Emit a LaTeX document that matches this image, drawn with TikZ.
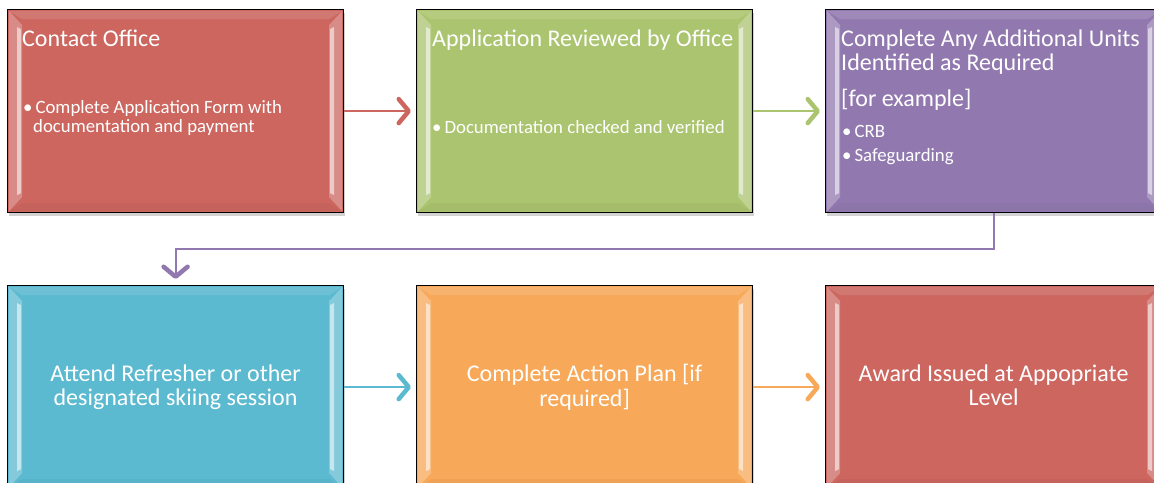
\documentclass[tikz,border=0pt]{standalone}
\usepackage{fontspec}
\setmainfont{Carlito}
\usetikzlibrary{arrows.meta,shadows}
\definecolor{cRed}{RGB}{204,102,95}
\definecolor{cGreen}{RGB}{171,196,111}
\definecolor{cPurple}{RGB}{145,121,175}
\definecolor{cBlue}{RGB}{91,185,208}
\definecolor{cOrange}{RGB}{247,168,89}
\tikzset{
  boxst/.style={draw=black, line width=1.2pt, minimum width=336pt, minimum height=203pt,
    anchor=north west, inner sep=0pt,
    drop shadow={opacity=0.35, shadow xshift=1.5pt, shadow yshift=-3pt}},
  ttl/.style={text=white, inner sep=0pt, anchor=base west, font=\fontsize{24}{24}\selectfont},
  bul/.style={text=white, inner sep=0pt, anchor=base west, font=\fontsize{18.8}{20}\selectfont},
  ctr/.style={text=white, inner sep=0pt, align=center, yshift=-2pt, font=\fontsize{24}{24}\selectfont},
  arr/.style={line width=2.5pt, shorten >=5pt,
    -{Straight Barb[length=10pt,width=24pt,line width=4.5pt,round]}},
}
\newcommand\mybevel[1]{%
  \fill[white,opacity=0.25] ([shift={(2,2)}]#1.north west) -- ([shift={(15,16)}]#1.north west)
    -- ([shift={(15,-16)}]#1.south west) -- ([shift={(2,-2)}]#1.south west) -- cycle;
  \fill[white,opacity=0.55] ([shift={(10,18)}]#1.north west) -- ([shift={(14,20)}]#1.north west)
    -- ([shift={(14,-20)}]#1.south west) -- ([shift={(10,-18)}]#1.south west) -- cycle;
  \fill[white,opacity=0.25] ([shift={(-2,2)}]#1.north east) -- ([shift={(-15,16)}]#1.north east)
    -- ([shift={(-15,-16)}]#1.south east) -- ([shift={(-2,-2)}]#1.south east) -- cycle;
  \fill[white,opacity=0.55] ([shift={(-10,18)}]#1.north east) -- ([shift={(-14,20)}]#1.north east)
    -- ([shift={(-14,-20)}]#1.south east) -- ([shift={(-10,-18)}]#1.south east) -- cycle;
  \fill[white,opacity=0.12] ([shift={(2,2)}]#1.north west) -- ([shift={(-2,2)}]#1.north east)
    -- ([shift={(-15,10)}]#1.north east) -- ([shift={(15,10)}]#1.north west) -- cycle;
  \fill[black,opacity=0.03] ([shift={(2,-2)}]#1.south west) -- ([shift={(-2,-2)}]#1.south east)
    -- ([shift={(-15,-10)}]#1.south east) -- ([shift={(15,-10)}]#1.south west) -- cycle;
}
\newcommand\bu{\textbullet\hspace{3pt}}
\begin{document}
\begin{tikzpicture}[x=1pt,y=-1pt]
\useasboundingbox (0,0) rectangle (1154,482);
\clip (0,0) rectangle (1154,482);
\fill[white] (0,0) rectangle (1154,482);

% boxes
\node[boxst, fill=cRed]    (b1) at (7,9) {};
\node[boxst, fill=cGreen]  (b2) at (416,9) {};
\node[boxst, fill=cPurple] (b3) at (825,9) {};
\node[boxst, fill=cBlue]   (b4) at (7,285) {};
\node[boxst, fill=cOrange] (b5) at (416,285) {};
\node[boxst, fill=cRed]    (b6) at (825,285) {};
\mybevel{b1}\mybevel{b2}\mybevel{b3}\mybevel{b4}\mybevel{b5}\mybevel{b6}

% box 1 text
\node[ttl] (t1) at (22,46) {Contact Office};
\node[bul] (t1a) at (23,113) {\bu Complete Application Form with};
\node[bul] (t1b) at (33,132) {documentation and payment};

% box 2 text
\node[ttl] (t2) at (432,46) {Application Reviewed by Office};
\node[bul] (t2a) at (432,133) {\bu Documentation checked and verified};

% box 3 text
\node[ttl] (t3a) at (841,46) {Complete Any Additional Units};
\node[ttl] (t3b) at (841,70) {Identified as Required};
\node[ttl] (t3c) at (841,106) {[for example]};
\node[bul] (t3d) at (842,137) {\bu CRB};
\node[bul] (t3e) at (842,161) {\bu Safeguarding};

% bottom texts
\node[ctr] (t4) at (b4.center) {\strut Attend Refresher or other\\designated skiing session\strut};
\node[ctr] (t5) at (b5.center) {\strut Complete Action Plan [if\\required]\strut};
\node[ctr] (t6) at (b6.center) {\strut Award Issued at Appopriate\\Level\strut};

% connectors
\draw[arr, cRed]    (b1.east) -- (b2.west);
\draw[arr, cGreen]  (b2.east) -- (b3.west);
\draw[arr, cPurple, line width=2pt, shorten >=6pt] (b3.south) -- ++(0,36) -| (b4.north);
\draw[arr, cBlue]   (b4.east) -- (b5.west);
\draw[arr, cOrange] (b5.east) -- (b6.west);
\end{tikzpicture}
\end{document}
